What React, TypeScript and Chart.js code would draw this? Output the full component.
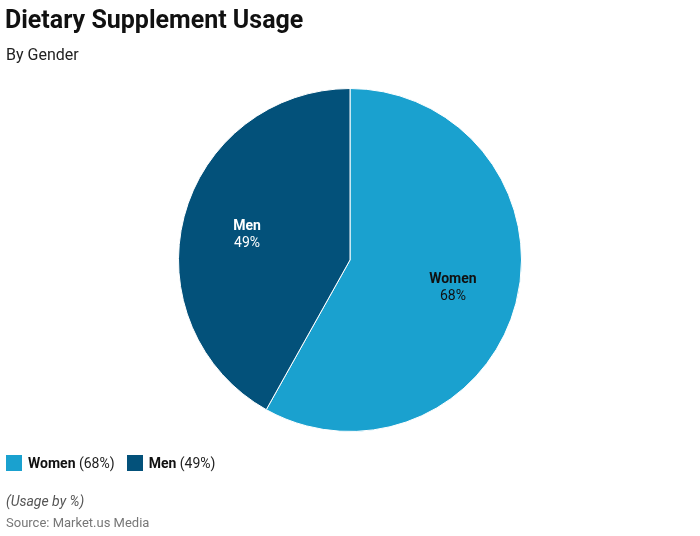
import React, { useEffect, useRef } from "react";
import { Chart, registerables } from "chart.js";

Chart.register(...registerables);

const categories = ["Women", "Men"];
const values = [68, 49];
const colors = ["#1aa1cf", "#03517a"];
const labelColors = ["#111111", "#ffffff"];

const labelPlugin = {
  id: "sliceLabels",
  afterDatasetsDraw(chart: any) {
    const ctx = chart.ctx;
    const meta = chart.getDatasetMeta(0);
    meta.data.forEach((arc: any, i: number) => {
      const { x, y, startAngle, endAngle, outerRadius } = arc.getProps(
        ["x", "y", "startAngle", "endAngle", "outerRadius"],
        true
      );
      const mid = (startAngle + endAngle) / 2;
      const r = outerRadius * 0.62;
      const lx = x + Math.cos(mid) * r;
      const ly = y + Math.sin(mid) * r;
      ctx.save();
      ctx.textAlign = "center";
      ctx.textBaseline = "middle";
      ctx.fillStyle = labelColors[i];
      ctx.font = "bold 14px Roboto";
      ctx.fillText(categories[i], lx, ly - 7);
      ctx.font = "14px Roboto";
      ctx.fillText(values[i] + "%", lx, ly + 10);
      ctx.restore();
    });
  },
};

export default function App() {
  const ref = useRef<HTMLCanvasElement>(null);
  useEffect(() => {
    if (!ref.current) return;
    const chart = new Chart(ref.current, {
      type: "pie",
      data: {
        labels: categories,
        datasets: [
          {
            data: values,
            backgroundColor: colors,
            borderColor: "#ffffff",
            borderWidth: 1,
          },
        ],
      },
      options: {
        animation: false,
        responsive: false,
        maintainAspectRatio: false,
        layout: { padding: { left: 178, right: 178, top: 88, bottom: 104 } },
        plugins: {
          legend: { display: false },
          tooltip: { enabled: false },
          title: { display: false },
        },
      },
      plugins: [labelPlugin],
    });
    return () => chart.destroy();
  }, []);

  const font = "Roboto, sans-serif";
  return (
    <div
      style={{
        position: "absolute",
        left: 0,
        top: 0,
        width: 700,
        height: 536,
        background: "#fff",
        fontFamily: font,
        overflow: "hidden",
      }}
    >
      <canvas
        ref={ref}
        width={700}
        height={536}
        style={{ position: "absolute", left: 0, top: 0, width: 700, height: 536 }}
      />
      <div
        style={{
          position: "absolute",
          left: 5,
          top: 4,
          fontSize: 25,
          fontWeight: 700,
          color: "#111",
          lineHeight: "32px",
          whiteSpace: "nowrap",
        }}
      >
        Dietary Supplement Usage
      </div>
      <div
        style={{
          position: "absolute",
          left: 6,
          top: 44,
          fontSize: 16,
          color: "#222",
          lineHeight: "22px",
          whiteSpace: "nowrap",
        }}
      >
        By Gender
      </div>
      <div
        style={{
          position: "absolute",
          left: 6,
          top: 453,
          display: "flex",
          alignItems: "center",
          fontSize: 14,
          color: "#222",
          lineHeight: "20px",
          whiteSpace: "nowrap",
        }}
      >
        {categories.map((c, i) => (
          <span key={c} style={{ display: "flex", alignItems: "center", marginRight: 12 }}>
            <span
              style={{
                display: "inline-block",
                width: 16,
                height: 16,
                background: colors[i],
                marginRight: 6,
              }}
            />
            <b style={{ color: "#111" }}>{c}</b>
            <span>&nbsp;({values[i]}%)</span>
          </span>
        ))}
      </div>
      <div
        style={{
          position: "absolute",
          left: 6,
          top: 492,
          fontSize: 14,
          fontStyle: "italic",
          color: "#555",
          lineHeight: "18px",
          whiteSpace: "nowrap",
        }}
      >
        (Usage by %)
      </div>
      <div
        style={{
          position: "absolute",
          left: 6,
          top: 514,
          fontSize: 13,
          color: "#777",
          lineHeight: "18px",
          whiteSpace: "nowrap",
        }}
      >
        Source: Market.us Media
      </div>
    </div>
  );
}
